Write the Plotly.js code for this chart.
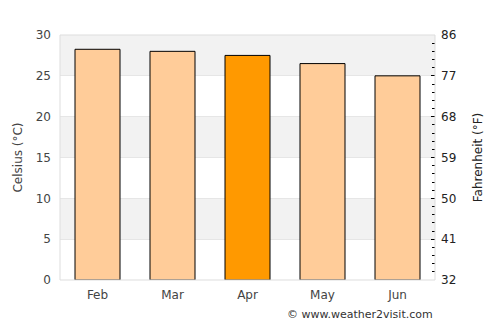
<!DOCTYPE html>
<html>
<head>
<meta charset="utf-8">
<script src="https://cdn.plot.ly/plotly-3.0.1.min.js"></script>
<style>html,body{margin:0;padding:0;background:#fff;}#chart{width:500px;height:325px;}</style>
</head>
<body>
<div id="chart"></div>
<script>
const months = ["Feb", "Mar", "Apr", "May", "Jun"];
const celsius = [28.25, 28.0, 27.5, 26.5, 25.0];
const barColors = ["#ffcc99", "#ffcc99", "#ff9900", "#ffcc99", "#ffcc99"];
const celsiusTicks = [0, 5, 10, 15, 20, 25, 30];
const fahrenheitTicks = [32, 41, 50, 59, 68, 77, 86];
const shadedBands = [[5, 10], [15, 20], [25, 30]];

const FONT = "DejaVu Sans, sans-serif";

const shapes = shadedBands.map(b => ({
  type: "rect", xref: "paper", yref: "y", x0: 0, x1: 1, y0: b[0], y1: b[1],
  fillcolor: "#f2f2f2", line: {width: 0}, layer: "below"
}));
shapes.push({type: "rect", xref: "paper", yref: "paper", x0: 0, x1: 1, y0: 0, y1: 1,
  line: {color: "#dddddd", width: 1}, fillcolor: "rgba(0,0,0,0)", layer: "above"});

const data = [
  {type: "bar", x: months, y: celsius, marker: {color: barColors, line: {color: "#000", width: 1}},
   width: 0.6, hoverinfo: "none"},
  {type: "scatter", x: months, y: celsius.map(c => c * 9 / 5 + 32), yaxis: "y2",
   mode: "markers", marker: {opacity: 0}, hoverinfo: "none", showlegend: false}
];

const layout = {
  width: 500, height: 325,
  margin: {l: 60, r: 65, t: 35, b: 45},
  paper_bgcolor: "#fff", plot_bgcolor: "#fff",
  showlegend: false, bargap: 0.4,
  font: {family: FONT, size: 12, color: "#444"},
  xaxis: {type: "category", showgrid: false, zeroline: false, showline: false, ticks: "",
    ticklabelstandoff: 6,
    tickfont: {family: FONT, size: 12, color: "#444"}, fixedrange: true},
  yaxis: {range: [0, 30], tickvals: celsiusTicks, ticktext: celsiusTicks.map(String),
    showgrid: true, gridcolor: "#e6e6e6", gridwidth: 1, zeroline: false, showline: false,
    ticks: "", ticklabelstandoff: 8,
    tickfont: {family: FONT, size: 12, color: "#444"},
    title: {text: "Celsius (°C)", font: {family: FONT, size: 12, color: "#444"}, standoff: 10}},
  yaxis2: {range: [32, 86], overlaying: "y", side: "right", tickvals: fahrenheitTicks,
    ticktext: fahrenheitTicks.map(String), showgrid: false, zeroline: false, showline: false,
    ticks: "inside", ticklen: 4, tickcolor: "#000", tickwidth: 1, ticklabelstandoff: 5,
    minor: {ticks: "inside", ticklen: 3, tickcolor: "#000", tick0: 32, dtick: 1.8, showgrid: false},
    tickfont: {family: FONT, size: 12, color: "#222"},
    title: {text: "Fahrenheit (°F)", font: {family: FONT, size: 12, color: "#222"}, standoff: 18}},
  shapes: shapes,
  annotations: [{text: "© www.weather2visit.com", xref: "paper", yref: "paper", x: 1, y: 0,
    xanchor: "right", yanchor: "top", yshift: -26, showarrow: false,
    font: {family: FONT, size: 11, color: "#333"}}]
};

Plotly.newPlot("chart", data, layout, {displayModeBar: false, staticPlot: true});
</script>
</body>
</html>
